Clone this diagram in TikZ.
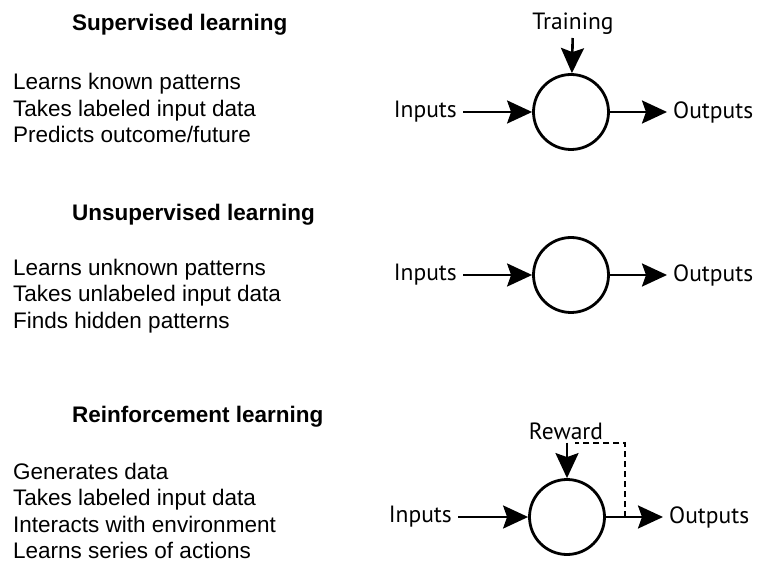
\documentclass[tikz,border=0pt]{standalone}
\usepackage{fontspec}
\setmainfont{Liberation Sans}
\newfontfamily\labelfont{PT Sans}
\usetikzlibrary{arrows.meta}

\begin{document}
\begin{tikzpicture}[x=1pt,y=1pt,
        title/.style={anchor=west, inner sep=0pt, font=\fontsize{22.5}{26}\selectfont\bfseries},
        facts/.style={anchor=west, inner sep=0pt, align=left, font=\fontsize{22.5}{26.5}\selectfont},
        io/.style={inner sep=6pt, font=\fontsize{23.5}{27}\selectfont\labelfont},
        unit/.style={draw, circle, line width=2.8pt, minimum size=75pt, inner sep=0pt},
        flow/.style={-{Stealth[length=25pt,width=23pt,inset=4pt]}, line width=2.6pt}]
    \useasboundingbox (0,0) rectangle (770,565);

    \node[title] (sup) at (72,540) {Supervised learning};
    \node[facts] (supfacts) at (13,457) {Learns known patterns\\Takes labeled input data\\Predicts outcome/future};
    \node[unit] (c1) at (571,453) {};
    \node[io, anchor=east] (in1) at (463,453) {Inputs};
    \node[io, anchor=west] (out1) at (667,453) {Outputs};
    \node[io, inner sep=3pt] (train) at (573,541) {Training};
    \draw[flow] (in1) -- (c1);
    \draw[flow] (c1) -- (out1);
    \draw[flow] (train) -- (c1);

    \node[title] (unsup) at (72,350) {Unsupervised learning};
    \node[facts] (unsupfacts) at (13,269) {Learns unknown patterns\\Takes unlabeled input data\\Finds hidden patterns};
    \node[unit] (c2) at (571,290) {};
    \node[io, anchor=east] (in2) at (463,290) {Inputs};
    \node[io, anchor=west] (out2) at (667,290) {Outputs};
    \draw[flow] (in2) -- (c2);
    \draw[flow] (c2) -- (out2);

    \node[title] (reinf) at (72,148) {Reinforcement learning};
    \node[facts] (reinffacts) at (13,54) {Generates data\\Takes labeled input data\\Interacts with environment\\Learns series of actions};
    \node[unit] (c3) at (567,48) {};
    \node[io, anchor=east] (in3) at (458,48) {Inputs};
    \node[io, anchor=west] (out3) at (663,48) {Outputs};
    \node[io, inner sep=3pt] (reward) at (566,134) {Reward};
    \coordinate (fb) at (625,48);
    \draw[flow] (in3) -- (c3);
    \draw[flow] (c3) -- (out3);
    \draw[flow] (reward.south -| c3) -- (c3);
    \draw[dashed, line width=2pt, dash pattern=on 6pt off 4pt] (fb) |- ([xshift=9pt]reward.south);
\end{tikzpicture}
\end{document}
